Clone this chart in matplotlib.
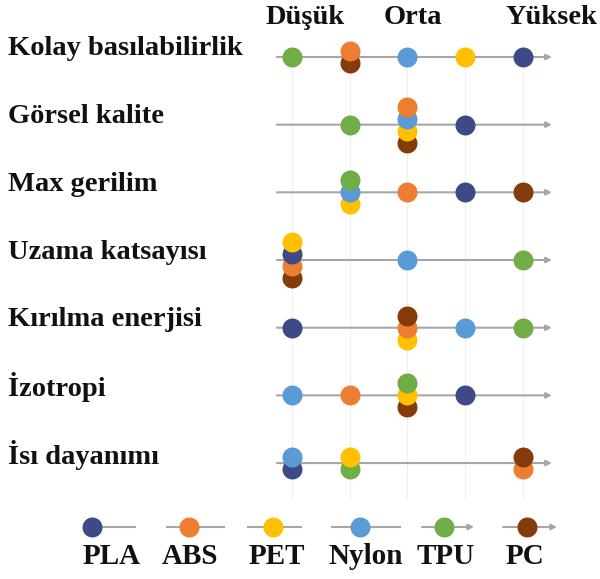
import matplotlib
matplotlib.use("Agg")
import matplotlib.pyplot as plt
import matplotlib.transforms as mtransforms
import numpy as np

# properties (rows, top to bottom)
properties = ["Kolay basılabilirlik", "Görsel kalite", "Max gerilim",
              "Uzama katsayısı", "Kırılma enerjisi", "İzotropi", "İsı dayanımı"]
levels = ["Düşük", "Orta", "Yüksek"]

materials = ["PLA", "ABS", "PET", "Nylon", "TPU", "PC"]
colors = ["#3d4a85", "#ed7d31", "#ffc000", "#5b9bd5", "#70ad47", "#843c0c"]

# score 1 (Düşük) .. 5 (Yüksek), one value per property
pla = [5, 4, 4, 1, 1, 4, 1]
abs_ = [2, 3, 3, 1, 3, 2, 5]
pet = [4, 3, 2, 1, 3, 3, 2]
nylon = [3, 3, 2, 3, 4, 1, 1]
tpu = [1, 2, 2, 5, 5, 3, 2]
pc = [2, 3, 5, 1, 3, 3, 5]
scores = [pla, abs_, pet, nylon, tpu, pc]

# order in which coinciding dots are stacked (top first), per property
stack_order = [
    ["ABS", "PC"],
    ["ABS", "Nylon", "PET", "PC"],
    ["TPU", "Nylon", "PET"],
    ["PET", "PLA", "ABS", "PC"],
    ["PC", "ABS", "PET"],
    ["TPU", "PET", "PC"],
    ["Nylon", "PLA", "PET", "TPU", "PC", "ABS"],
]

W, H = 600, 579
fig = plt.figure(figsize=(W / 100, H / 100), dpi=100)
ax = fig.add_axes([260 / W, (H - 505) / H, 320 / W, 470 / H])
ax.set_xlim(0.446, 5.987)
ax.set_ylim(6.62, -0.325)
ax.axis("off")

font = dict(family="Liberation Serif", weight="bold", color="#111111")
dot_size = 14.4
step = 0.177  # vertical shift between stacked dots

# faint guide lines at each level
for lv in [1, 2, 3, 4, 5]:
    ax.plot([lv, lv], [0, 6.55], color="#efefef", lw=0.8, zorder=0)

for r, prop in enumerate(properties):
    ax.annotate("", xy=(5.5, r), xytext=(0.74, r),
                arrowprops=dict(arrowstyle="-|>", color="#a6a6a6", lw=1.5,
                                mutation_scale=8, shrinkA=0, shrinkB=0),
                zorder=1)
    # group materials by score
    groups = {}
    for m, vals in zip(materials, scores):
        groups.setdefault(vals[r], []).append(m)
    for lv, ms in groups.items():
        ms = sorted(ms, key=lambda m: stack_order[r].index(m) if m in stack_order[r] else 0)
        n = len(ms)
        for k, m in enumerate(ms):
            off = (k - (n - 1) / 2) * step
            i = materials.index(m)
            ax.plot(lv, r + off, "o", ms=dot_size, color=colors[i],
                    markeredgewidth=0, zorder=10 + n - k)

# row labels
trans = mtransforms.blended_transform_factory(fig.transFigure, ax.transData)
trans = trans + mtransforms.ScaledTranslation(0, 0.08, fig.dpi_scale_trans)
for r, prop in enumerate(properties):
    ax.text(8 / W, r, prop, transform=trans, ha="left", va="center",
            fontsize=20.5, **font)

# level headers
for txt, x in zip(levels, [1.225, 3.1, 5.5]):
    ax.text(x, -0.59, txt, ha="center", va="center", fontsize=20.5, **font)

# legend strip (pixel coordinates)
lax = fig.add_axes([0, 0, 1, 1])
lax.set_xlim(0, W)
lax.set_ylim(H, 0)
lax.axis("off")
leg_dot_x = [92, 189, 273, 360, 444, 527]
leg_line = [(92, 135), (167, 224), (248, 301), (332, 400), (422, 474), (503, 557)]
leg_text_x = [112, 190, 277, 366, 446, 525]
leg_y = 527
for i, m in enumerate(materials):
    x0, x1 = leg_line[i]
    if m in ("TPU", "PC"):
        lax.annotate("", xy=(x1, leg_y), xytext=(x0, leg_y),
                     arrowprops=dict(arrowstyle="-|>", color="#a6a6a6", lw=1.5,
                                     mutation_scale=8, shrinkA=0, shrinkB=0))
    else:
        lax.plot([x0, x1], [leg_y, leg_y], color="#a6a6a6", lw=1.5, zorder=1)
    lax.plot(leg_dot_x[i], leg_y, "o", ms=dot_size, color=colors[i],
             markeredgewidth=0, zorder=5)
    lax.text(leg_text_x[i], 557, m, ha="center", va="center", fontsize=21, **font)

fig.savefig("out.png", dpi=100)
